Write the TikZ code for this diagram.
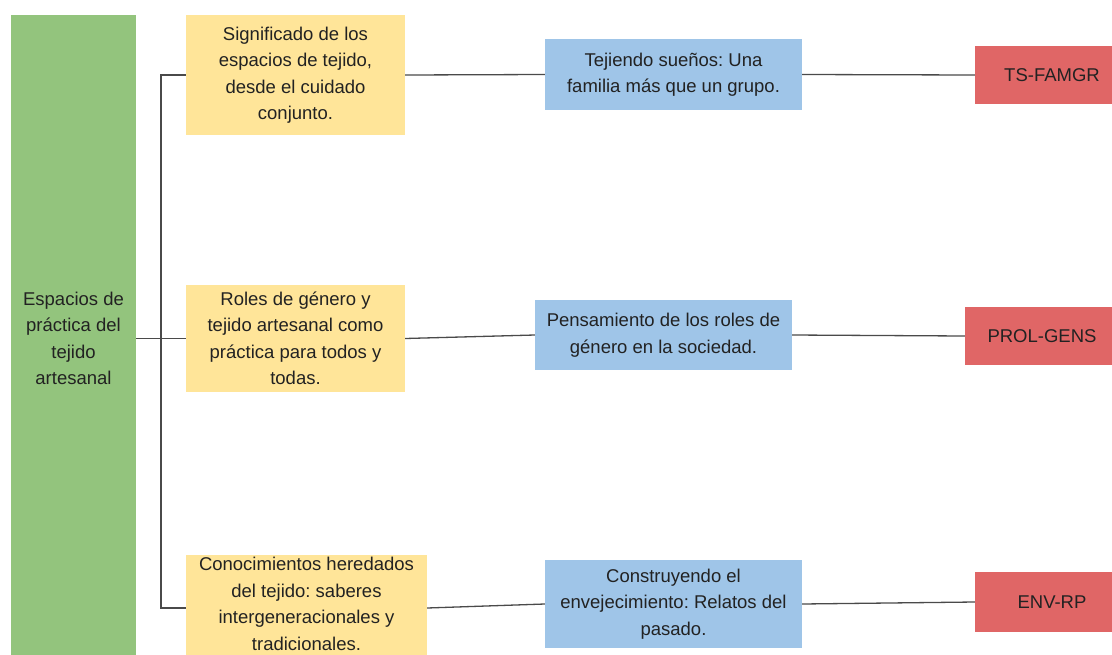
\documentclass[tikz,border=0pt]{standalone}
\usepackage{fontspec}
\setmainfont{Liberation Sans}
\frenchspacing
\definecolor{cgreen}{HTML}{93C47D}
\definecolor{cyellow}{HTML}{FFE599}
\definecolor{cblue}{HTML}{9FC5E8}
\definecolor{cred}{HTML}{E06666}
\definecolor{ctext}{HTML}{222222}
\definecolor{cline}{HTML}{4A4A4A}
\tikzset{
  boxbase/.style={rectangle, inner sep=0pt, align=center, text=ctext,
    font=\fontsize{18.5}{26.5}\selectfont},
  boxgreen/.style={boxbase, fill=cgreen},
  boxyellow/.style={boxbase, fill=cyellow},
  boxblue/.style={boxbase, fill=cblue},
  boxred/.style={boxbase, fill=cred},
  conn/.style={draw=cline, line width=1.3pt},
}
\begin{document}
\begin{tikzpicture}[x=1pt,y=-1pt]
\clip (0,0) rectangle (1112,654);
\fill[white] (0,0) rectangle (1112,654);
% green root
\node[boxgreen, minimum width=125pt, minimum height=647pt] (root) at (73.5,338.5)
  {Espacios de\\práctica del\\tejido\\artesanal};
% yellow
\node[boxyellow, minimum width=219pt, minimum height=120pt] (y1) at (295.5,75)
  {Significado de los\\espacios de tejido,\\desde el cuidado\\conjunto.};
\node[boxyellow, minimum width=219pt, minimum height=107pt] (y2) at (295.5,338.5)
  {Roles de género y\\tejido artesanal como\\práctica para todos y\\todas.};
\node[boxyellow, minimum width=241pt, minimum height=107pt, text depth=9pt] (y3) at (306.5,608.5)
  {Conocimientos heredados\\del tejido: saberes\\intergeneracionales y\\tradicionales.};
% blue
\node[boxblue, minimum width=257pt, minimum height=71pt] (b1) at (673.5,74.5)
  {Tejiendo sueños: Una\\familia más que un grupo.};
\node[boxblue, minimum width=257pt, minimum height=70pt] (b2) at (663.5,335)
  {Pensamiento de los roles de\\género en la sociedad.};
\node[boxblue, minimum width=257pt, minimum height=88pt] (b3) at (673.5,604)
  {Construyendo el\\envejecimiento: Relatos del\\pasado.};
% red
\node[boxred, minimum width=154pt, minimum height=58pt] (r1) at (1052,75) {TS-FAMGR};
\node[boxred, minimum width=154pt, minimum height=58pt] (r2) at (1042,336) {PROL-GENS};
\node[boxred, minimum width=154pt, minimum height=60pt] (r3) at (1052,602) {ENV-RP};
% tree connectors
\coordinate (jt) at (161,75);
\coordinate (jm) at (161,338.5);
\coordinate (jb) at (161,608);
\draw[conn] (root.east) -- (jm);
\draw[conn] (y1.west) -- (jt) -- (jb) -- (y3.west |- jb);
\draw[conn] (jm) -- (y2.west);
% chains
\draw[conn] (y1.east) -- (b1.west);
\draw[conn] (b1.east) -- (r1.west);
\draw[conn] (y2.east) -- (b2.west);
\draw[conn] (b2.east) -- (r2.west);
\draw[conn] (y3.east |- jb) -- (b3.west);
\draw[conn] (b3.east) -- (r3.west);
\end{tikzpicture}
\end{document}
